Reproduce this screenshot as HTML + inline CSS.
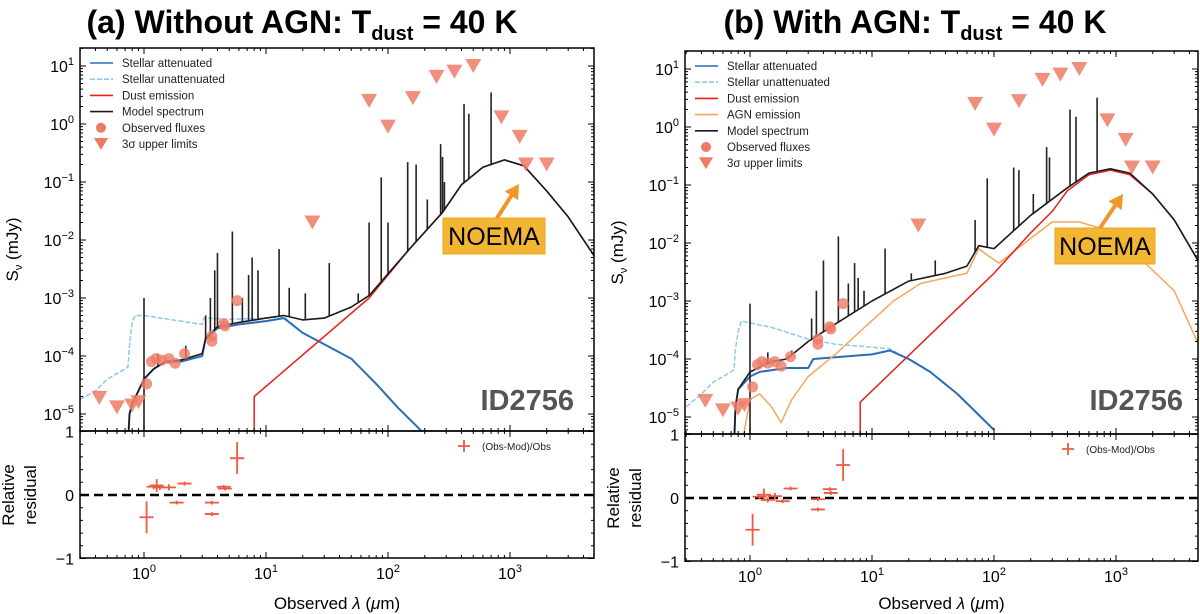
<!DOCTYPE html>
<html><head><meta charset="utf-8"><style>
html,body{margin:0;padding:0;background:#fff;width:1200px;height:614px;overflow:hidden}
svg text{font-family:"Liberation Sans","DejaVu Sans",sans-serif}
</style></head><body>
<svg id="fig" width="1200" height="614" viewBox="0 0 1200 614" xmlns="http://www.w3.org/2000/svg">
<text x="302" y="33" text-anchor="middle" font-size="32" font-weight="bold">(a) Without AGN: T<tspan font-size="20" dy="7">dust</tspan><tspan dy="-7"> = 40 K</tspan></text>
<text x="915" y="33" text-anchor="middle" font-size="32" font-weight="bold">(b) With AGN: T<tspan font-size="20" dy="7">dust</tspan><tspan dy="-7"> = 40 K</tspan></text>
</svg>
<script>
// ---- Panel A data ----
const aUnatt=[[0.3,1.8e-5],[0.4,2.5e-5],[0.5,4e-5],[0.7,6e-5],[0.74,6.5e-5],[0.76,1.5e-4],[0.8,4e-4],[0.85,5e-4],[1.0,5e-4],[2,4e-4],[3,3.5e-4],[3.1,4.5e-4],[5,4.3e-4],[10,4.5e-4],[14,4.8e-4],[20,2.5e-4],[30,1.6e-4],[50,9e-5],[80,3.3e-5],[120,1.3e-5],[190,5e-6]];
const aAtt=[[0.74,3e-6],[0.76,1e-5],[0.8,1.5e-5],[0.9,2.5e-5],[1.0,4e-5],[1.2,6e-5],[1.5,8e-5],[2,8e-5],[3,1e-4],[3.2,2e-4],[4,3e-4],[6,3.5e-4],[10,4e-4],[14,4.5e-4],[20,2.5e-4],[30,1.6e-4],[50,9e-5],[80,3.3e-5],[120,1.3e-5],[190,5e-6]];
const aDust=[[8,3e-6],[8,2e-5],[70,1e-3],[150,7e-3],[280,3e-2],[400,0.09],[600,0.18],[900,0.24],[1300,0.19],[2000,0.07],[3000,0.025],[5000,5e-3]];
const aModel=[[0.74,3e-6],[0.76,1e-5],[0.8,1.5e-5],[0.9,2.5e-5],[1.0,4e-5],[1.2,6e-5],[1.5,8e-5],[2,8.5e-5],[3,1.1e-4],[3.2,2e-4],[4,3.2e-4],[6,3.8e-4],[10,4.5e-4],[14,5e-4],[20,4.2e-4],[30,4.5e-4],[50,7e-4],[70,1.1e-3],[150,7e-3],[280,3e-2],[400,0.09],[600,0.18],[900,0.24],[1300,0.19],[2000,0.07],[3000,0.025],[5000,5e-3]];
const aLines=[[1.0,1e-3],[1.3,1.1e-4],[2.2,1.5e-4],[3.2,5e-4],[3.5,1e-3],[3.8,3e-3],[4.0,6e-3],[5.3,1.4e-2],[6.4,1e-3],[7.2,2.5e-3],[7.7,5e-3],[8.6,3e-3],[12.8,7e-3],[15.5,1.5e-3],[21,1.2e-3],[33,4e-3],[57,1.2e-3],[70,2e-2],[88,0.12],[100,2e-2],[145,0.22],[170,0.2],[210,5e-2],[270,0.45],[280,0.27],[290,0.1],[420,2.2],[460,1.5],[700,3.5]];
const aUL=[[0.43,1.9e-5],[0.6,1.3e-5],[0.8,1.4e-5],[0.9,1.6e-5],[24,2e-2],[70,2.5],[100,0.9],[160,2.8],[250,6.5],[350,8],[500,10],[850,1.3],[1200,0.6],[1350,0.2],[2000,0.2]];
const aObs=[[1.05,3.3e-5],[1.15,8e-5],[1.25,9e-5],[1.4,8.5e-5],[1.6,9e-5],[1.8,7.5e-5],[2.15,1.1e-4],[3.6,2.2e-4],[3.6,1.8e-4],[4.5,3.6e-4],[4.6,3.3e-4],[5.8,9e-4]];
const aRes=[[1.05,-0.35,0.25],[1.2,0.13,0.04],[1.27,0.15,0.1],[1.35,0.12,0.04],[1.6,0.12,0.05],[1.85,-0.12,0.03],[2.15,0.18,0.03],[3.6,-0.12,0.03],[3.6,-0.3,0.03],[4.5,0.13,0.03],[4.6,0.1,0.03],[5.8,0.58,0.25]];
// ---- Panel B data ----
const bUnatt=[[0.3,1.5e-5],[0.4,2.5e-5],[0.5,4e-5],[0.7,6e-5],[0.74,6.5e-5],[0.76,1.5e-4],[0.8,3e-4],[0.85,4.5e-4],[1.5,3.5e-4],[3,2.2e-4],[5,1.8e-4],[10,1.6e-4],[14,1.5e-4],[20,1e-4],[30,6e-5],[50,2.5e-5],[100,6e-6]];
const bAtt=[[0.74,3e-6],[0.76,1.5e-5],[0.8,3e-5],[1.0,5e-5],[1.2,6e-5],[2,7e-5],[3,7e-5],[3.3,1e-4],[10,1.2e-4],[14,1.4e-4],[20,1e-4],[30,6e-5],[50,2.5e-5],[100,6e-6]];
const bDust=[[8,3e-6],[8,1.8e-5],[100,3e-3],[200,1.5e-2],[300,3.5e-2],[400,8e-2],[600,0.15],[900,0.18],[1300,0.15],[2000,0.07],[3000,0.025],[5000,4e-3]];
const bAGN=[[0.85,3e-6],[1.0,2e-5],[1.2,2.5e-5],[1.5,1.5e-5],[1.8,8e-6],[2.2,2e-5],[3,5e-5],[5,1.2e-4],[8,3e-4],[15,1e-3],[25,2e-3],[40,2.5e-3],[60,3e-3],[75,8e-3],[90,6e-3],[110,4.5e-3],[200,1.2e-2],[300,2.3e-2],[500,2.3e-2],[1000,1.5e-2],[1500,6e-3],[3000,1.5e-3],[5000,1.4e-4]];
const bModel=[[0.74,3e-6],[0.76,1.5e-5],[0.8,3e-5],[1.0,6e-5],[1.5,9e-5],[2,1e-4],[3,2e-4],[5,4e-4],[10,1e-3],[20,2.2e-3],[40,3e-3],[60,4e-3],[75,9e-3],[100,8e-3],[200,3e-2],[400,0.09],[600,0.16],[900,0.19],[1300,0.16],[2000,0.07],[3000,0.025],[5000,4e-3]];
const bLines=[[1.0,9e-4],[1.4,1.3e-4],[2.2,1.4e-4],[3.2,5e-4],[3.5,1.5e-3],[4.0,5e-3],[5.3,1.3e-2],[6.4,2e-3],[7.2,4.5e-3],[7.7,2.5e-3],[8.6,1.5e-3],[12.8,8e-3],[21,3e-3],[33,5e-3],[70,2.5e-2],[88,0.13],[145,0.2],[160,0.18],[210,7e-2],[270,0.45],[285,0.3],[420,2],[470,1.5],[700,3.2]];
const bUL=[[0.43,1.9e-5],[0.6,1.3e-5],[0.8,1.4e-5],[0.9,1.6e-5],[24,2e-2],[70,2.5],[100,0.9],[160,2.8],[250,6.5],[350,8],[500,10],[850,1.3],[1200,0.6],[1350,0.2],[2000,0.2]];
const bObs=[[1.05,3.3e-5],[1.15,8e-5],[1.25,9e-5],[1.4,8.5e-5],[1.6,9e-5],[1.8,7.5e-5],[2.15,1.1e-4],[3.6,2.2e-4],[3.6,1.8e-4],[4.5,3.6e-4],[4.6,3.3e-4],[5.8,9e-4]];
const bRes=[[1.05,-0.5,0.25],[1.2,0.02,0.04],[1.3,0.05,0.1],[1.4,-0.03,0.04],[1.6,0.03,0.05],[1.85,-0.05,0.03],[2.15,0.15,0.03],[3.6,-0.02,0.03],[3.6,-0.18,0.03],[4.5,0.14,0.03],[4.6,0.08,0.03],[5.8,0.52,0.25]];
const xTicks=[0,1,2,3];
const yTicks=[1,0,-1,-2,-3,-4,-5];
const rTicks=[1,0,-1];

const NS='http://www.w3.org/2000/svg';
const svg=document.getElementById('fig');
function mk(tag,attrs,parent){const e=document.createElementNS(NS,tag);for(const k in attrs)e.setAttribute(k,attrs[k]);(parent||svg).appendChild(e);return e;}

function panel(o){
  const L=o.x0,R=o.x1,T=o.top,B=o.mid,RB=o.bot,d0=o.d0,dec=122,ydec=o.ydec;
  const X=l=>d0+Math.log10(l)*dec;
  const Y=s=>o.y1+(1-Math.log10(s))*ydec;
  const RY=v=>o.r0-v*(RB-B)/2;
  const g=mk('g',{});
  
  
  const clip=mk('clipPath',{id:o.name+'c'},g);mk('rect',{x:L,y:T,width:R-L,height:B-T},clip);
  const pl=mk('g',{'clip-path':'url(#'+o.name+'c)'},g);
  const path=(pts,st,nm)=>{const p=mk('path',{d:pts.map((q,i)=>(i?'L':'M')+X(q[0]).toFixed(1)+','+Y(q[1]).toFixed(1)).join(''),fill:'none','stroke-linejoin':'round',...st},pl);};
  path(o.unatt,{stroke:'#8ec8ea','stroke-width':1.5,'stroke-dasharray':'5,2'},'stellar-unattenuated-line');
  path(o.att,{stroke:'#2a6db5','stroke-width':2},'stellar-attenuated-line');
  if(o.agn)path(o.agn,{stroke:'#f4a85e','stroke-width':1.5},'agn-emission-line');
  path(o.dust,{stroke:'#e8201a','stroke-width':1.5},'dust-emission-line');
  const mInterp=l=>{const m=o.model;for(let i=1;i<m.length;i++){if(l<=m[i][0]){const a=m[i-1],b=m[i];const t=(Math.log10(l)-Math.log10(a[0]))/(Math.log10(b[0])-Math.log10(a[0])||1);return Math.pow(10,Math.log10(a[1])+t*(Math.log10(b[1])-Math.log10(a[1])));}}return m[m.length-1][1];};
  o.lines.forEach(q=>{const ln=mk('line',{x1:X(q[0]),x2:X(q[0]),y1:q[0]<1.05?B:Y(mInterp(q[0])),y2:Y(q[1]),stroke:'#222','stroke-width':1.6},pl);});
  path(o.model,{stroke:'#1a1a1a','stroke-width':1.6},'model-spectrum-line');
  o.obs.forEach(q=>{const c=mk('circle',{cx:X(q[0]),cy:Y(q[1]),r:5.5,fill:'#ee7b66','fill-opacity':0.8},pl);});
  o.ul.forEach(q=>{const x=X(q[0]),y=Y(q[1]);const t=mk('polygon',{points:`${x-8},${y-7} ${x+8},${y-7} ${x},${y+7}`,fill:'#ee7b66','fill-opacity':0.85},pl);});
  const zl=mk('line',{x1:L,x2:R,y1:RY(0),y2:RY(0),stroke:'#000','stroke-width':2.5,'stroke-dasharray':'9,5'},g);
  o.res.forEach(q=>{const x=X(q[0]),y=RY(q[1]);const e=mk('path',{d:`M${x-7},${y}H${x+7}M${x},${RY(q[1]+q[2])}V${RY(q[1]-q[2])}`,stroke:'#ee5a3f','stroke-width':1.8},g);});
  mk('rect',{x:L,y:T,width:R-L,height:B-T,fill:'none',stroke:'#000','stroke-width':1.5},g);
  mk('rect',{x:L,y:B,width:R-L,height:RB-B,fill:'none',stroke:'#000','stroke-width':1.5},g);
  let tk='';
  for(let dd=-1;dd<=4;dd++)for(let m=1;m<10;m++){const x=d0+(dd+Math.log10(m))*dec;if(x<L||x>R)continue;const len=m==1?6:3;tk+=`M${x},${T}v${len}M${x},${B}v-${len}M${x},${B}v${len}M${x},${RB}v-${len}`;}
  for(let e=-6;e<=1;e++)for(let m=1;m<10;m++){const y=o.y1+(1-(e+Math.log10(m)))*ydec;if(y<T||y>B)continue;const len=m==1?6:3;tk+=`M${L},${y}h${len}M${R},${y}h-${len}`;}
  for(let v=-1;v<=1;v+=0.2){const y=RY(v);const len=Math.abs(v-Math.round(v))<0.01?6:3;tk+=`M${L},${y}h${len}M${R},${y}h-${len}`;}
  mk('path',{d:tk,stroke:'#000','stroke-width':1},g);
  xTicks.forEach(e=>{const t=mk('text',{x:X(Math.pow(10,e)),y:RB+21,'text-anchor':'middle','font-size':16},g);t.innerHTML=`10<tspan font-size="11" dy="-7">${e}</tspan>`;});
  yTicks.forEach(e=>{const t=mk('text',{x:L-6,y:Y(Math.pow(10,e))+6,'text-anchor':'end','font-size':16},g);t.innerHTML=`10<tspan font-size="11" dy="-7">${e<0?'−'+(-e):e}</tspan>`;});
  rTicks.forEach(v=>{const t=mk('text',{x:L-6,y:RY(v)+6,'text-anchor':'end','font-size':16},g);t.textContent=v<0?'−'+(-v):v;});
  const xl=mk('text',{x:(L+R)/2,y:609,'text-anchor':'middle','font-size':17},g);xl.innerHTML='Observed <tspan font-style="italic">λ</tspan> (<tspan font-style="italic">μ</tspan>m)';
  const yl=mk('text',{transform:`translate(${L-62},${(T+B)/2+10}) rotate(-90)`,'text-anchor':'middle','font-size':17},g);yl.innerHTML='S<tspan font-size="11" dy="4">ν</tspan><tspan dy="-4"> (mJy)</tspan>';
  const rl=mk('text',{transform:`translate(${L-66},${RY(0)}) rotate(-90)`,'text-anchor':'middle','font-size':17},g);rl.innerHTML=`<tspan x="0" dy="0">Relative</tspan><tspan x="0" dy="22">residual</tspan>`;
  const items=[['Stellar attenuated','line','#2a6db5',''],['Stellar unattenuated','line','#8ec8ea','5,2'],['Dust emission','line','#e8201a','']];
  if(o.agn)items.push(['AGN emission','line','#f4a85e','']);
  items.push(['Model spectrum','line','#1a1a1a',''],['Observed fluxes','circ'],['3σ upper limits','tri']);
  items.forEach((it,i)=>{const y=o.legY+i*16.2,lx=L+10;const lg=mk('g',{},g);
    if(it[1]=='line')mk('line',{x1:lx,x2:lx+23,y1:y,y2:y,stroke:it[2],'stroke-width':1.6,'stroke-dasharray':it[3]},lg);
    else if(it[1]=='circ')mk('circle',{cx:lx+11,cy:y,r:5,fill:'#ee7b66'},lg);
    else mk('polygon',{points:`${lx+4},${y-6} ${lx+18},${y-6} ${lx+11},${y+6}`,fill:'#ee7b66'},lg);
    const t=mk('text',{x:lx+32,y:y+4,'font-size':11.5,fill:'#222'},lg);t.textContent=it[0];});
  const rlg=mk('g',{},g);
  mk('path',{d:`M${R-136},${B+15}h12M${R-130},${B+9}v12`,stroke:'#ee5a3f','stroke-width':1.8},rlg);
  const rt=mk('text',{x:R-112,y:B+19,'font-size':10,fill:'#222'},rlg);rt.textContent='(Obs-Mod)/Obs';
  const id=mk('text',{x:o.idx,y:o.idy,'text-anchor':'end','font-size':29,'font-weight':'bold',fill:'#555'},g);id.textContent='ID2756';
  const nb=mk('g',{},g);
  const n=o.noema;
  mk('rect',{x:n[0],y:n[1],width:n[2],height:n[3],fill:'#f2b634',stroke:'#e8a820','stroke-width':1},nb);
  const nt=mk('text',{x:n[0]+n[2]/2,y:n[1]+n[3]/2+9,'text-anchor':'middle','font-size':25,fill:'#000'},nb);nt.textContent='NOEMA';
  const ax=n[4],ay=n[5],bx=n[6],by=n[7];const ang=Math.atan2(by-ay,bx-ax);
  mk('line',{x1:ax,y1:ay,x2:bx-Math.cos(ang)*10,y2:by-Math.sin(ang)*10,stroke:'#f0962c','stroke-width':4},nb);
  const hx=bx,hy=by,px=-Math.sin(ang),py=Math.cos(ang);
  mk('polygon',{points:`${hx},${hy} ${hx-Math.cos(ang)*14+px*8},${hy-Math.sin(ang)*14+py*8} ${hx-Math.cos(ang)*14-px*8},${hy-Math.sin(ang)*14-py*8}`,fill:'#f0962c'},nb);
}
panel({name:'a',x0:80,x1:594,top:48,mid:431,bot:558,d0:144,y1:66,ydec:58,r0:495,legY:63,unatt:aUnatt,att:aAtt,dust:aDust,model:aModel,lines:aLines,ul:aUL,obs:aObs,res:aRes,idx:574,idy:410,noema:[443,218,102,36,497,218,519,184]});
panel({name:'b',x0:685,x1:1198,top:51,mid:434,bot:561,d0:750,y1:69,ydec:58,r0:498,legY:66,unatt:bUnatt,att:bAtt,agn:bAGN,dust:bDust,model:bModel,lines:bLines,ul:bUL,obs:bObs,res:bRes,idx:1183,idy:410,noema:[1055,228,100,36,1100,228,1123,194]});
</script>
</body></html>
